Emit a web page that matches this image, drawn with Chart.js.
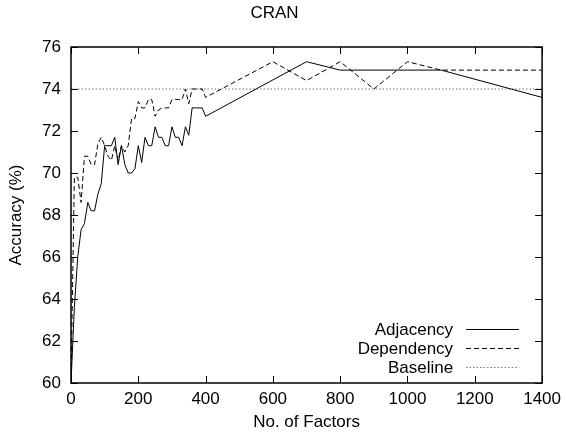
<!DOCTYPE html>
<html>
<head>
<meta charset="utf-8">
<script src="https://cdn.jsdelivr.net/npm/chart.js@4"></script>
<style>
  html, body { margin: 0; padding: 0; background: #fff; }
  #wrap { width: 567px; height: 439px; }
</style>
</head>
<body>
<div id="wrap"><canvas id="chart" width="567" height="439"></canvas></div>
<script>
// values
const adjFactors = [0, 10, 20, 30, 40, 50, 60, 70, 80, 90, 100, 110, 120, 130, 140, 150, 160, 170, 180, 190,
    200, 210, 220, 230, 240, 250, 260, 270, 280, 290, 300, 310, 320, 330, 340, 350, 360, 370, 380, 390, 400,
    700, 800, 900, 1000, 1100, 1400];
const adjAccuracy = [60.0, 63.6, 66.0, 67.3, 67.6, 68.6, 68.2, 68.2, 69.0, 69.5, 71.3, 71.3, 71.3, 71.7, 70.4, 71.3, 70.4, 70.0, 70.0, 70.2,
    71.3, 70.5, 71.7, 71.3, 71.3, 72.2, 71.7, 71.7, 71.3, 71.3, 72.2, 71.7, 71.7, 71.3, 72.2, 71.8, 73.1, 73.1, 73.1, 73.1, 72.7,
    75.3, 74.9, 74.9, 74.9, 74.9, 73.6];

const depFactors = [0, 10, 20, 30, 40, 50, 60, 70, 80, 90, 100, 110, 120, 130, 140, 150, 160, 170, 180, 190,
    200, 210, 220, 230, 240, 250, 260, 270, 280, 290, 300, 310, 320, 330, 340, 350, 360, 370, 380, 390, 400,
    600, 700, 800, 900, 1000, 1100, 1400];
const depAccuracy = [60.0, 69.8, 69.8, 68.6, 70.8, 70.8, 70.4, 70.4, 71.4, 71.7, 71.3, 70.8, 70.6, 71.3, 70.6, 71.3, 71.0, 71.3, 72.6, 72.6,
    73.4, 73.1, 73.1, 73.5, 73.5, 72.7, 73.0, 73.1, 73.1, 73.1, 73.5, 73.5, 73.5, 73.5, 74.0, 73.3, 74.0, 74.0, 74.0, 74.0, 73.6,
    75.3, 74.4, 75.3, 74.0, 75.3, 74.9, 74.9];

const baseFactors = [0, 1400];
const baseAccuracy = [74.0, 74.0];

const seriesNames = ["Adjacency", "Dependency", "Baseline"];
const xTicks = [0, 200, 400, 600, 800, 1000, 1200, 1400];
const yTicks = [60, 62, 64, 66, 68, 70, 72, 74, 76];

const FONT = "'Liberation Sans', Arial, sans-serif";
const FSIZE = 17;

function pairs(xs, ys) {
    return xs.map(function(x, i) { return { x: x, y: ys[i] }; });
}

// gnuplot style frame: box plus inward ticks on all sides
const framePlugin = {
    id: "frame",
    afterDraw: function(chart) {
        const c = chart.ctx;
        const a = chart.chartArea;
        const xs = chart.scales.x, ys = chart.scales.y;
        const len = 7;
        c.save();
        c.strokeStyle = "#000";
        c.lineWidth = 1;
        c.beginPath();
        xTicks.forEach(function(v) {
            const px = Math.round(xs.getPixelForValue(v)) + 0.5;
            c.moveTo(px, a.bottom); c.lineTo(px, a.bottom - len);
            c.moveTo(px, a.top); c.lineTo(px, a.top + len);
        });
        yTicks.forEach(function(v) {
            const py = Math.round(ys.getPixelForValue(v)) + 0.5;
            c.moveTo(a.left, py); c.lineTo(a.left + len, py);
            c.moveTo(a.right, py); c.lineTo(a.right - len, py);
        });
        c.stroke();
        c.lineWidth = 1.5;
        c.strokeRect(a.left, a.top, a.right - a.left, a.bottom - a.top);
        c.restore();
    }
};

// legend inside the plot, bottom right: text then line sample
const keyPlugin = {
    id: "key",
    afterDraw: function(chart) {
        const c = chart.ctx;
        const a = chart.chartArea;
        c.save();
        c.font = FSIZE + "px " + FONT;
        c.textAlign = "right";
        c.textBaseline = "middle";
        chart.data.datasets.forEach(function(ds, i) {
            const y = a.bottom - 54 + i * 19;
            c.fillStyle = "#000";
            c.fillText(ds.label, a.right - 89, y + 1);
            c.strokeStyle = ds.borderColor;
            c.lineWidth = ds.borderWidth;
            c.setLineDash(ds.borderDash || []);
            c.beginPath();
            c.moveTo(a.right - 76, y + 0.5);
            c.lineTo(a.right - 23, y + 0.5);
            c.stroke();
        });
        c.restore();
    }
};

new Chart(document.getElementById("chart").getContext("2d"), {
    type: "line",
    data: {
        datasets: [{
            label: seriesNames[0],
            data: pairs(adjFactors, adjAccuracy),
            borderColor: "#000",
            borderWidth: 1,
            pointRadius: 0,
            tension: 0
        }, {
            label: seriesNames[1],
            data: pairs(depFactors, depAccuracy),
            borderColor: "#000",
            borderWidth: 1,
            borderDash: [5, 3],
            pointRadius: 0,
            tension: 0
        }, {
            label: seriesNames[2],
            data: pairs(baseFactors, baseAccuracy),
            borderColor: "#777",
            borderWidth: 1,
            borderDash: [1.5, 2],
            pointRadius: 0,
            tension: 0
        }]
    },
    options: {
        responsive: false,
        animation: false,
        devicePixelRatio: 1,
        layout: { padding: { left: 6, right: 24, top: 0, bottom: 0 } },
        plugins: {
            legend: { display: false },
            tooltip: { enabled: false },
            title: {
                display: true,
                text: "CRAN",
                color: "#000",
                font: { family: FONT, size: FSIZE, weight: "normal" },
                padding: { top: 3, bottom: 23.6 }
            }
        },
        scales: {
            x: {
                type: "linear",
                min: 0,
                max: 1400,
                afterBuildTicks: function(s) { s.ticks = xTicks.map(function(v) { return { value: v }; }); },
                afterFit: function(s) { s.height = 56; },
                grid: { display: false, drawTicks: false },
                border: { display: false },
                ticks: {
                    color: "#000",
                    padding: 6,
                    maxRotation: 0,
                    font: { family: FONT, size: FSIZE },
                    callback: function(v) { return String(v); }
                },
                title: {
                    display: true,
                    text: "No. of Factors",
                    color: "#000",
                    font: { family: FONT, size: FSIZE },
                    padding: { top: 0, bottom: 6 }
                }
            },
            y: {
                min: 60,
                max: 76,
                afterBuildTicks: function(s) { s.ticks = yTicks.map(function(v) { return { value: v }; }); },
                afterFit: function(s) { s.width = 65; },
                grid: { display: false, drawTicks: false },
                border: { display: false },
                ticks: { color: "#000", padding: 10, font: { family: FONT, size: FSIZE } },
                title: {
                    display: true,
                    text: "Accuracy (%)",
                    color: "#000",
                    font: { family: FONT, size: FSIZE },
                    padding: { top: 0, bottom: 0 }
                }
            }
        }
    },
    plugins: [framePlugin, keyPlugin]
});
</script>
</body>
</html>
